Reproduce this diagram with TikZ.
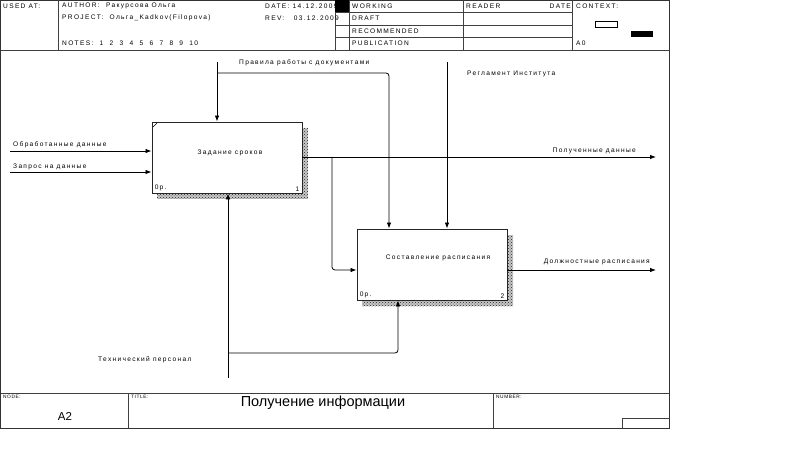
\documentclass[tikz,border=0pt]{standalone}
\usepackage{fontspec}
\setmainfont{Liberation Sans}
\usetikzlibrary{arrows.meta,patterns}
\begin{document}
\begin{tikzpicture}[x=1pt,y=-1pt,
 frame/.style={draw=black!80, line width=0.9pt},
 grid/.style={draw=black!75, line width=0.7pt},
 hdr/.style={font=\fontsize{6.6}{7}\selectfont\addfontfeature{LetterSpace=20}, anchor=west, inner sep=0pt},
 tiny/.style={font=\fontsize{4.8}{5}\selectfont\addfontfeature{LetterSpace=12}, anchor=north west, inner sep=0pt},
 lbl/.style={font=\fontsize{6.6}{7}\selectfont\addfontfeature{LetterSpace=20}, inner sep=0pt},
 act/.style={draw=black!85, line width=0.9pt, fill=white, minimum width=150pt, minimum height=71pt, inner sep=0pt},
 shadowbg/.style={fill=black!22},
 shadowst/.style={pattern=crosshatch dots, pattern color=black!85},
 arr/.style={draw=black, line width=0.8pt, rounded corners=3pt, -{Latex[length=6pt,width=4.5pt]}},
]
\useasboundingbox (0,0) rectangle (800,457);
\fill[white] (0,0) rectangle (800,457);

% ---------- frame and header ----------
\draw[frame] (0.5,0.5) rectangle (669,428);
\draw[grid] (58,0.5) -- (58,50);
\draw[grid] (0.5,50) -- (669,50);
\fill[black] (335,0.5) rectangle (349,12);
\draw[grid] (335,0.5) -- (335,50);
\draw[grid] (349,0.5) -- (349,50);
\draw[grid] (463,0.5) -- (463,50);
\draw[grid] (572,0.5) -- (572,50);
\foreach \yy in {12,25,37} \draw[grid] (335,\yy) -- (572,\yy);
\draw[black, line width=0.7pt] (595,21) rectangle (617,27);
\fill[black] (631,31) rectangle (653,37);

\node[hdr] (usedat) at (3,6) {USED AT:};
\node[hdr] (author) at (62,6) {AUTHOR:\ \ Ракурсова Ольга};
\node[hdr] (project) at (62,18) {PROJECT:\ \ Ольга\_Kadkov(Filopova)};
\node[hdr] (notes) at (62,43) {NOTES:\ \ 1\ \ 2\ \ 3\ \ 4\ \ 5\ \ 6\ \ 7\ \ 8\ \ 9\ \ 10};
\node[hdr] (date) at (265,6) {DATE:\ 14.12.2009};
\node[hdr] (rev) at (265,18) {REV:\ \ \ 03.12.2009};
\fill[black] (335,0.5) rectangle (349,12);
\node[hdr] (working) at (352,6) {WORKING};
\node[hdr] (draft) at (352,18) {DRAFT};
\node[hdr] (recom) at (352,31) {RECOMMENDED};
\node[hdr] (publ) at (352,43) {PUBLICATION};
\node[hdr] (reader) at (466,6) {READER};
\node[hdr, anchor=east] (rdate) at (571,6) {DATE};
\node[hdr] (context) at (576,6) {CONTEXT:};
\node[hdr] (a0) at (576,43) {A0};

% ---------- footer ----------
\draw[grid] (0.5,393) -- (669,393);
\draw[grid] (128,393) -- (128,428);
\draw[grid] (493,393) -- (493,428);
\draw[grid] (622,428) -- (622,418) -- (669,418);
\node[tiny] (nodelbl) at (3,395) {NODE:};
\node[tiny] (titlelbl) at (131,395) {TITLE:};
\node[tiny] (numlbl) at (496,395) {NUMBER:};
\node[font=\fontsize{11.5}{12}\selectfont, inner sep=0pt] (nodeval) at (65,416) {A2};
\node[font=\fontsize{14.5}{15}\selectfont, inner sep=0pt] (title) at (323,403) {Получение информации};

% ---------- activity boxes ----------
\fill[shadowbg] (157,128) rectangle (308,199);
\fill[shadowst] (157,128) rectangle (308,199);
\fill[shadowbg] (362,235) rectangle (513,306);
\fill[shadowst] (362,235) rectangle (513,306);
\node[act] (b1) at (227,157.5) {};
\node[act] (b2) at (432,264.5) {};
\draw[black, line width=0.5pt] (153,127) -- (157,123);
\node[lbl] (t1) at (230,153) {Задание сроков};
\node[lbl] (t2) at (438,258) {Составление расписания};
\node[lbl, anchor=south west] (c1) at ([shift={(3,-2)}]b1.south west) {0р.};
\node[lbl, anchor=south east] (n1) at ([shift={(-3,-2)}]b1.south east) {1};
\node[lbl, anchor=south west] (c2) at ([shift={(3,-2)}]b2.south west) {0р.};
\node[lbl, anchor=south east] (n2) at ([shift={(-3,-2)}]b2.south east) {2};

% ---------- free ends ----------
\coordinate (in1) at (10,151);
\coordinate (in2) at (10,172);
\coordinate (ctl1) at (217,62);
\coordinate (ctl1b) at (217,73);
\coordinate (ctl2) at (447,62);
\coordinate (out1) at (656,157);
\coordinate (out1b) at (332,157);
\coordinate (out2) at (656,270);
\coordinate (mech) at (228,378);
\coordinate (mechb) at (228,353);

% ---------- connectors ----------
\draw[arr] (in1) -- (in1 -| b1.west);
\draw[arr] (in2) -- (in2 -| b1.west);
\draw[arr] (ctl1) -- (ctl1 |- b1.north);
\draw[arr] (ctl1b) -- (389,73) -- (389,0 |- b2.north);
\draw[arr] (ctl2) -- (ctl2 |- b2.north);
\draw[arr] (out1 -| b1.east) -- (out1);
\draw[arr] (out1b) -- (332,270) -- (b2.west |- 0,270);
\draw[arr] (b2.east |- out2) -- (out2);
\draw[arr] (mech) -- (mech |- b1.south);
\draw[arr] (mechb) -- (398,353) -- (398,0 |- b2.south);

% ---------- connector labels ----------
\node[lbl, anchor=west] (l1) at (13,145) {Обработанные данные};
\node[lbl, anchor=west] (l2) at (13,167) {Запрос на данные};
\node[lbl, anchor=west] (l3) at (239,63) {Правила работы с документами};
\node[lbl, anchor=west] (l4) at (467,74) {Регламент Института};
\node[lbl, anchor=east] (l5) at (636,151) {Полученные данные};
\node[lbl, anchor=east] (l6) at (650,262) {Должностные расписания};
\node[lbl, anchor=west] (l7) at (98,360) {Технический персонал};
\end{tikzpicture}
\end{document}
